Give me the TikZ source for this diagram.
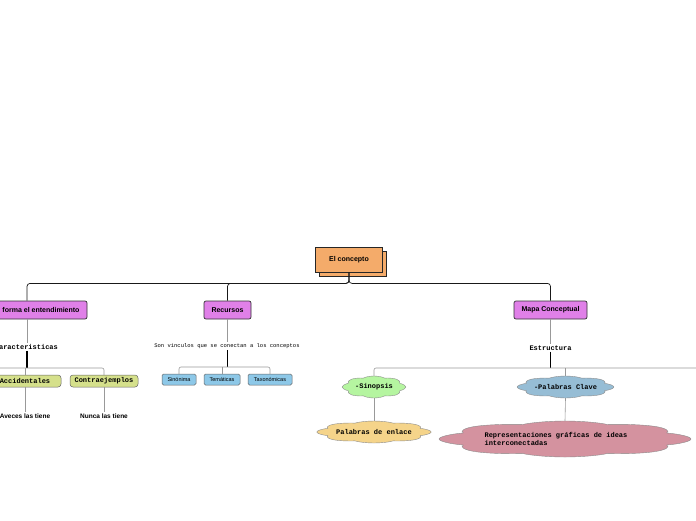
\documentclass[tikz,border=0pt]{standalone}
\usepackage{fontspec}
\setmainfont{Liberation Sans}
\setmonofont{Liberation Mono}
\usepackage{xcolor}
\usetikzlibrary{shapes.symbols,shadows,positioning,calc}

\definecolor{rootorange}{HTML}{F4AB6A}
\definecolor{mainpurple}{HTML}{E080E8}
\definecolor{leafolive}{HTML}{D5E08B}
\definecolor{leafblue}{HTML}{8DC8E8}
\definecolor{cloudgreen}{HTML}{B5F5A0}
\definecolor{cloudyellow}{HTML}{F5D48A}
\definecolor{cloudblue}{HTML}{96BDD5}
\definecolor{cloudpink}{HTML}{D4929F}

\begin{document}
\begin{tikzpicture}[x=1pt, y=-1pt,
    rootbox/.style={rectangle, draw=black!85, fill=rootorange, line width=0.8pt, minimum width=67pt, minimum height=25pt, font=\fontsize{7}{8}\selectfont\bfseries, copy shadow={shadow xshift=4pt, shadow yshift=-4pt}},
    mainbox/.style={rectangle, draw=black!80, fill=mainpurple, rounded corners=2pt, line width=0.7pt, minimum height=18pt, font=\fontsize{7}{8}\selectfont\bfseries},
    olivebox/.style={rectangle, draw=black!60, fill=leafolive, rounded corners=3pt, line width=0.5pt, minimum height=12pt, inner sep=1pt, font=\ttfamily\fontsize{7}{8}\selectfont\bfseries},
    bluebox/.style={rectangle, draw=black!60, fill=leafblue, rounded corners=1.5pt, line width=0.5pt, minimum height=11pt, inner sep=1pt, font=\fontsize{5.5}{6}\selectfont},
    puff/.style={cloud, cloud puffs=8, cloud puff arc=120, aspect=1, draw=black!45, line width=0.4pt, inner sep=0pt, minimum width=#1, minimum height=#1, transform shape},
    cloudtext/.style={inner sep=1pt, font=\ttfamily\fontsize{7}{8}\selectfont\bfseries},
    tag/.style={inner sep=1pt, font=\ttfamily\fontsize{7}{8}\selectfont\bfseries},
    note/.style={inner sep=1pt, font=\fontsize{6.5}{7}\selectfont\bfseries},
    trunk/.style={draw=black!90, line width=0.7pt, rounded corners=3pt},
    stem/.style={draw=black, line width=1.2pt},
    twig/.style={draw=black!40, line width=0.6pt, rounded corners=2pt}
]
    \useasboundingbox (0,0) rectangle (696,520);

    % root and main branches
    \node (root) [rootbox] at (349,259.5) {El concepto};
    \node (forma) [mainbox, minimum width=92pt] at (41,310) {forma el entendimiento};
    \node (recursos) [mainbox, minimum width=47pt] at (227.5,310) {Recursos};
    \node (mapa) [mainbox, minimum width=73pt] at (550.5,310) {Mapa Conceptual};

    \draw [trunk] (root.south) -- ++(0,11) -| ($(forma.north)+(-14,0)$);
    \draw [trunk] (root.south) -- ++(0,11) -| (recursos.north);
    \draw [trunk] (root.south) -- ++(0,11) -| (mapa.north);

    % caracteristicas
    \node (carac) [tag] at (28.5,347) {aracteristicas};
    \node (acc) [olivebox, minimum width=72pt] at (25,381) {Accidentales};
    \node (contra) [olivebox, minimum width=68pt] at (104,381) {Contraejemplos};
    \node (aveces) [note] at (25,416) {Aveces las tiene};
    \node (nunca) [note] at (104,416) {Nunca las tiene};
    \coordinate (lefthub) at (0,368);

    \draw [twig] ($(forma.south)+(-14,0)$) -- (carac.north -| 27,0);
    \draw [stem] (carac.south -| 27,0) -- (27,368);
    \draw [twig] (lefthub) -| (contra.north);
    \draw [twig] (acc.north |- lefthub) -- (acc.north);
    \draw [twig] (acc.south) -- (aveces.north);
    \draw [twig] (contra.south) -- (nunca.north);

    % recursos
    \node (son) [tag, font=\ttfamily\fontsize{5.5}{6}\selectfont] at (227,346) {Son vinculos que se conectan a los conceptos};
    \node (sin) [bluebox, minimum width=34pt] at (179,379.5) {Sinónima};
    \node (tem) [bluebox, minimum width=36pt] at (222,379.5) {Temáticas};
    \node (tax) [bluebox, minimum width=44pt] at (270,379.5) {Taxonómicas};

    \draw [twig] (recursos.south) -- (son.north -| recursos.south);
    \draw [stem] (son.south -| recursos.south) -- (227.5,367);
    \draw [twig] (sin.north) |- (227.5,367) -| (tax.north);
    \draw [twig] (tem.north) -- (tem.north |- 0,367);

    % mapa conceptual
    \node (estructura) [tag] at (550.5,348) {Estructura};
    \node (sinopsisbg) [puff=22pt, fill=cloudgreen, xscale=2.9] at (374,387) {};
    \node (sinopsis) [cloudtext] at (sinopsisbg.center) {-Sinopsis};
    \node (enlacebg) [puff=22pt, fill=cloudyellow, xscale=5.2] at (374,432) {};
    \node (enlace) [cloudtext] at (enlacebg.center) {Palabras de enlace};
    \node (clavebg) [puff=22pt, fill=cloudblue, xscale=4.4] at (565.5,387) {};
    \node (clave) [cloudtext] at (clavebg.center) {-Palabras Clave};
    \node (reprbg) [puff=36pt, fill=cloudpink, xscale=7] at (565,439) {};
    \node (repr) [cloudtext, align=left] at (reprbg.center) {Representaciones gráficas de ideas\hspace*{18pt}\\interconectadas};
    \coordinate (righthub) at (696,368);

    \draw [twig] (mapa.south) -- (estructura.north);
    \draw [stem] (estructura.south) -- (550.5,368);
    \draw [twig] (sinopsisbg.north) |- (righthub);
    \draw [twig] (clavebg.north |- righthub) -- (clavebg.north);
    \draw [twig] (sinopsisbg.south) -- (enlacebg.north);
    \draw [twig] (clavebg.south) -- (reprbg.north);
\end{tikzpicture}
\end{document}
